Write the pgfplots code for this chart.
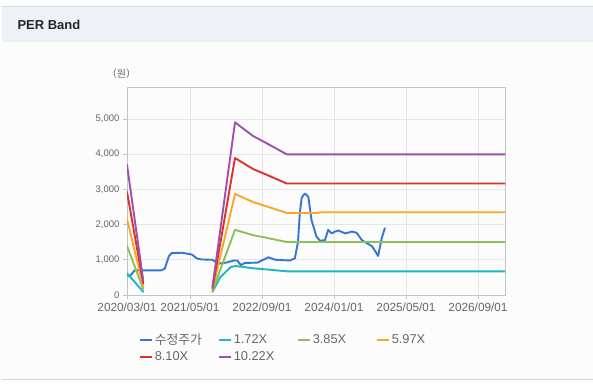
\documentclass[border=0pt]{standalone}
\usepackage{pgfplots}
\pgfplotsset{compat=1.18}
\usepackage{fontspec}
\setmainfont{Liberation Sans}
\newfontfamily\kr{Noto Sans CJK KR}
\definecolor{cblue}{HTML}{3575D3}
\definecolor{ccyan}{HTML}{1FB5C9}
\definecolor{cgreen}{HTML}{8DC153}
\definecolor{corange}{HTML}{F9A825}
\definecolor{cred}{HTML}{E0302A}
\definecolor{cpurple}{HTML}{9D50AD}
\definecolor{labgray}{HTML}{666666}
\definecolor{gridgray}{HTML}{E6E6E6}
\definecolor{boxgray}{HTML}{C4C4C4}
\definecolor{hdr}{HTML}{EEF2F7}
\definecolor{hdrline}{HTML}{D6D6D6}
\definecolor{bgpage}{HTML}{FCFCFC}
\begin{document}
\begin{tikzpicture}[x=1pt,y=1pt]
\path[use as bounding box] (0,0) rectangle (593,390);
\fill[white] (0,0) rectangle (593,390);
\fill[bgpage] (0,10) rectangle (593,383);
\fill[hdr] (2,348) rectangle (593,383);
\draw[hdrline, line width=1pt] (2,383) -- (593,383);
\draw[hdrline, line width=1pt] (2,10) -- (593,10);
\node[anchor=west, font=\fontsize{13}{15}\selectfont\bfseries, text=black!85] at (14,365) {PER Band};
\node[font=\kr\fontsize{10}{12}\selectfont, text=labgray] at (121.5,316) {（원）};
\begin{axis}[
  at={(127pt,95pt)}, anchor=south west,
  scale only axis, width=378pt, height=208pt,
  xmin=0, xmax=84, ymin=0, ymax=5909,
  xtick={0,14,30,46,62,78},
  xticklabels={2020/03/01,2021/05/01,2022/09/01,2024/01/01,2025/05/01,2026/09/01},
  ytick={0,1000,2000,3000,4000,5000},
  yticklabels={0,{1,000},{2,000},{3,000},{4,000},{5,000}},
  /pgf/number format/assume math mode=true,
  xticklabel style={font=\fontsize{11.8}{13}\selectfont, text=labgray},
  yticklabel style={font=\fontsize{9.5}{11}\selectfont, text=labgray},
  tick align=outside, major tick length=4pt,
  tick style={draw=boxgray, line width=0.8pt},
  xtick pos=bottom, ytick pos=left,
  grid=major, major grid style={draw=gridgray, line width=0.8pt},
  axis line style={draw=boxgray, line width=0.8pt},
  unbounded coords=jump,
  every axis plot/.append style={line width=1.9pt, line join=round, line cap=round},
  legend columns=4,
  legend cell align=left,
  legend style={at={(0.024,-0.17)}, anchor=north west, draw=none, fill=none,
    font=\fontsize{12.8}{14}\selectfont, text=labgray,
    nodes={inner sep=1.5pt}, row sep=2.5pt},
  legend image code/.code={\draw[#1, line width=2pt, line cap=butt] (0pt,0pt) -- (12pt,0pt);},
]
\addplot[cblue] coordinates {
(0,570) (0.6,530) (1.7,700) (7.6,700) (8.4,750) (9.3,1100) (9.9,1190) (12.2,1200)
(14.4,1150) (15.5,1040) (16.5,1010) (19.0,1000) (20.3,890) (22,920) (23.8,980)
(24.5,980) (25.3,850) (26.2,910) (29,920) (31.4,1070) (33,1000) (36.2,980)
(37.3,1040) (38,1510) (38.4,2320) (38.8,2750) (39.2,2840) (39.6,2880) (40.3,2790)
(41,2130) (42.1,1660) (42.9,1540) (44,1560) (44.7,1850) (45.5,1750) (46.2,1800)
(47,1830) (48.5,1750) (50,1800) (51,1770) (52.2,1560) (53.3,1470) (54.4,1390)
(55.1,1260) (55.8,1110) (56.6,1610) (57.3,1900)
};
\addlegendentry{\makebox[62pt][l]{\kr 수정주가}}
\addplot[ccyan] coordinates {
(0,620) (3.6,90) (10,nan) (19,90) (20.7,500) (23,790) (24,825) (28,760) (31,726) (35.5,673) (84,673)
};
\addlegendentry{\makebox[62pt][l]{1.72X}}
\addplot[cgreen] coordinates {
(0,1394) (3.6,173) (10,nan) (19,120) (24,1850) (28,1700) (31,1625) (35.5,1505) (84,1505)
};
\addlegendentry{\makebox[62pt][l]{3.85X}}
\addplot[corange] coordinates {
(0,2161) (3.6,250) (10,nan) (19,150) (24,2870) (28,2640) (31,2520) (35.5,2330) (42,2330) (43,2350) (84,2350)
};
\addlegendentry{\makebox[62pt][l]{5.97X}}
\addplot[cred] coordinates {
(0,2932) (3.6,330) (10,nan) (19,190) (24,3890) (28,3580) (31,3418) (35.5,3167) (84,3167)
};
\addlegendentry{\makebox[62pt][l]{8.10X}}
\addplot[cpurple] coordinates {
(0,3700) (3.6,420) (10,nan) (19,235) (24,4905) (28,4517) (31,4313) (35.5,3996) (84,3996)
};
\addlegendentry{\makebox[62pt][l]{10.22X}}
\end{axis}
\end{tikzpicture}
\end{document}
